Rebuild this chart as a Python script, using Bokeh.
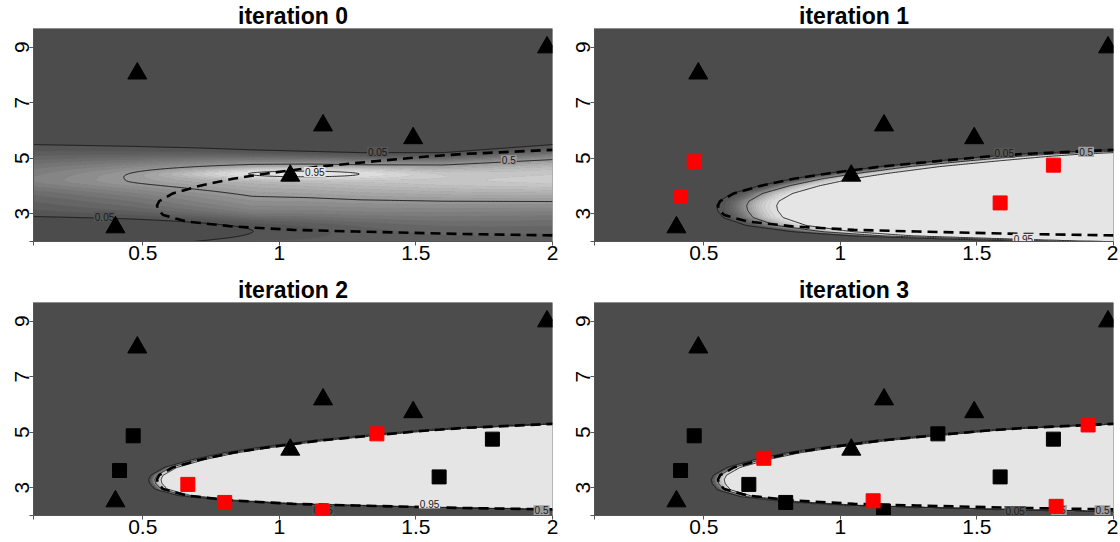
import numpy as np
from bokeh.plotting import figure
from bokeh.models import Range1d, FixedTicker
from bokeh.layouts import column, row
from bokeh.embed import file_html
from bokeh.resources import INLINE
from bokeh.core.properties import value

FONT = "Liberation Sans"

# ---------------- values ----------------
titles = ["iteration 0", "iteration 1", "iteration 2", "iteration 3"]
x_ticks = [0.1, 0.5, 1, 1.5, 2]
x_tick_labels = ["", "0.5", "1", "1.5", "2"]
y_ticks = [2, 3, 5, 7, 9]
y_tick_labels = ["", "3", "5", "7", "9"]
x_lim = [0.1, 2.0]
y_lim = [2.0, 9.67]

# initial design (triangles, same in every panel)
tri_x = [0.48, 1.16, 1.49, 1.98, 1.04, 0.40]
tri_y = [8.05, 6.18, 5.72, 8.99, 4.37, 2.51]

# points added at iteration 1, 2, 3 (squares)
sq1_x = [0.465, 0.415, 1.585, 1.78]
sq1_y = [4.87, 3.62, 3.39, 4.75]
sq2_x = [0.665, 0.80, 1.158, 1.357]
sq2_y = [3.12, 2.47, 2.16, 4.94]
sq3_x = [0.72, 1.12, 1.79, 1.907]
sq3_y = [4.06, 2.53, 2.33, 5.26]

# true boundary (dashed curve)
bnd_x = [2.0, 1.67, 1.28, 1.05, 0.83, 0.66, 0.575, 0.556, 0.552, 0.56, 0.61,
         0.71, 0.83, 0.955, 1.15, 1.36, 1.54, 1.67, 2.0]
bnd_y = [2.22, 2.27, 2.36, 2.42, 2.54, 2.72, 2.95, 3.15, 3.29, 3.45, 3.73,
         4.01, 4.26, 4.45, 4.70, 4.90, 5.06, 5.15, 5.30]

line_levels = [0.05, 0.5, 0.95]

# iteration 0 probability surface: ridge description
it0_cx = [0.10, 0.445, 0.70, 0.90, 1.10, 1.30, 1.60, 2.00]
it0_ridge = [4.20, 4.20, 4.25, 4.30, 4.30, 4.25, 4.20, 4.20]
it0_peak = [-0.60, 0.00, 0.45, 0.80, 1.00, 1.15, 1.30, 1.50]
it0_top05 = [5.49, 5.43, 5.37, 5.30, 5.25, 5.20, 5.20, 5.49]
it0_lowk = [2.50, 2.50, 2.20, 2.05, 2.40, 2.65, 3.00, 3.41]
it0_bump_pos = [1.07, 4.44, 0.24, 0.12, 3.0]
it0_bump_neg = [0.42, 2.40, 0.50, 0.30, 2.9]

# iterations 1-3: sharpness, offset and lower stretch of the fitted boundary
it_k = [26.8, 132.0, 125.0]
it_shift = [0.105, -0.008, -0.001]
it_stretch = [1.25, 1.0, 1.07]

# contour labels
lab0_t = ["0.05", "0.5", "0.95", "0.05"]
lab0_x = [1.36, 1.84, 1.13, 0.36]
lab0_y = [5.23, 4.93, 4.50, 2.90]
lab1_t = ["0.05", "0.5", "0.95"]
lab1_x = [1.60, 1.90, 1.67]
lab1_y = [5.20, 5.23, 2.10]
lab2_t = ["0.95", "0.05", "0.5"]
lab2_x = [1.55, 1.16, 1.96]
lab2_y = [2.43, 2.20, 2.19]
lab3_t = ["0.05", "0.5", "0.5"]
lab3_x = [1.64, 1.80, 1.96]
lab3_y = [2.16, 2.20, 2.19]

# ---------------- surfaces ----------------
gx = np.linspace(x_lim[0], x_lim[1], 320)
gy = np.linspace(y_lim[0], y_lim[1], 420)
X, Y = np.meshgrid(gx, gy)
L05 = np.log(19.0)


def gauss(b):
    cx, cy, sx, sy, a = b
    return a * np.exp(-0.5 * ((X - cx) / sx) ** 2 - 0.5 * ((Y - cy) / sy) ** 2)


def surface0():
    ridge = np.interp(X, it0_cx, it0_ridge)
    peak = np.interp(X, it0_cx, it0_peak)
    top = np.interp(X, it0_cx, it0_top05)
    kl = np.interp(X, it0_cx, it0_lowk)
    ku = (peak + L05) / (top - ridge) ** 2
    d = Y - ridge
    up = np.where(d > 0, ku * d * d, 0.0)
    g = (d * d + 0.04) ** 0.25 - 0.2 ** 0.5
    lo = np.where(d < 0, kl * g, 0.0)
    return peak - up - lo + gauss(it0_bump_pos) - gauss(it0_bump_neg)


def boundary_x(yy, stretch):
    yv = bnd_y[int(np.argmin(bnd_x))]
    ys = np.where(yy < yv, yv - (yv - yy) / stretch, yy)
    xb = np.interp(ys, bnd_y, bnd_x)
    e_hi = np.maximum(0.0, ys - bnd_y[-1])
    e_lo = np.maximum(0.0, bnd_y[0] - ys)
    return xb + 2.5 * e_hi + 3 * e_hi ** 2 + 6 * e_lo + 3 * e_lo ** 2


def surface_k(i):
    return it_k[i] * (X - boundary_x(Y, it_stretch[i]) - it_shift[i])


def prob(f):
    f = np.clip(f, -40, 40)
    return np.clip(1.0 / (1.0 + np.exp(-f)), 1e-6, 1 - 1e-6)


surfaces = [prob(surface0())] + [prob(surface_k(i)) for i in range(3)]

fill_levels = list(np.linspace(0.0, 1.0, 21))
gray_vals = [0.3 + 0.6 * i / 19 for i in range(20)]
palette = ["#%02x%02x%02x" % ((int(round(255 * v)),) * 3) for v in gray_vals]
# seam-hiding strokes on each band edge (mean of the two neighbouring greys)
seam_cols = []
for j in range(21):
    a = gray_vals[max(j - 1, 0)]
    b = gray_vals[min(j, 19)]
    v = int(round(255 * (a + b) / 2))
    seam_cols.append("#%02x%02x%02x" % (v, v, v))

labels = [(lab0_t, lab0_x, lab0_y), (lab1_t, lab1_x, lab1_y),
          (lab2_t, lab2_x, lab2_y), (lab3_t, lab3_x, lab3_y)]
new_pts = [([], []), (sq1_x, sq1_y), (sq2_x, sq2_y), (sq3_x, sq3_y)]

FW, FH = 519, 213


def make_panel(i, left, right, bottom):
    p = figure(title=titles[i], frame_width=FW, frame_height=FH,
               x_range=Range1d(*x_lim), y_range=Range1d(*y_lim),
               output_backend="svg", toolbar_location=None,
               min_border_left=left, min_border_right=right,
               min_border_top=0, min_border_bottom=bottom)
    p.background_fill_color = palette[0]
    p.border_fill_color = "white"
    p.outline_line_color = None
    p.xgrid.visible = False
    p.ygrid.visible = False

    p.title.align = "center"
    p.title.text_font = FONT
    p.title.text_font_size = "23px"
    p.title.text_font_style = "bold"
    p.title.text_color = "black"
    p.title.standoff = 0

    P = surfaces[i]
    p.contour(gx, gy, P, fill_levels, fill_color=palette,
              line_color=seam_cols, line_width=1.0)
    p.contour(gx, gy, P, line_levels, fill_color=None,
              line_color="#1a1a1a", line_width=0.9)
    p.line(bnd_x, bnd_y, line_color="black", line_width=2.6, line_dash="10 6")

    lt, lx, ly = labels[i]
    bg = [palette[min(int(round(float(t) / 0.05)), 19)] for t in lt]
    p.text(x=lx, y=ly, text=lt, text_font=value(FONT), text_font_size="10px",
           text_align="center", text_baseline="middle", text_color="#1a1a1a",
           background_fill_color=bg, padding=1)

    p.scatter(tri_x, tri_y, marker="triangle", size=19, color="black")
    old_x, old_y = [], []
    for j in range(1, i):
        old_x += new_pts[j][0]
        old_y += new_pts[j][1]
    if old_x:
        p.scatter(old_x, old_y, marker="square", size=14, color="black")
    if i > 0:
        p.scatter(new_pts[i][0], new_pts[i][1], marker="square", size=14,
                  color="#ff0000")

    p.xaxis.ticker = FixedTicker(ticks=x_ticks)
    p.xaxis.major_label_overrides = {t: s for t, s in zip(x_ticks, x_tick_labels)}
    p.yaxis.ticker = FixedTicker(ticks=y_ticks)
    p.yaxis.major_label_overrides = {t: s for t, s in zip(y_ticks, y_tick_labels)}
    p.yaxis.major_label_orientation = "vertical"
    for ax in (p.xaxis, p.yaxis):
        ax.axis_line_color = "#555555"
        ax.major_tick_line_color = "#555555"
        ax.minor_tick_line_color = None
        ax.major_tick_in = 0
        ax.major_tick_out = 4
        ax.major_label_standoff = 0
        ax.major_label_text_font = FONT
        ax.major_label_text_font_size = "21px"
        ax.major_label_text_color = "black"
    return p


p0 = make_panel(0, 33, 8, 33)
p1 = make_panel(1, 34, 5, 33)
p2 = make_panel(2, 33, 8, 0)
p3 = make_panel(3, 34, 5, 0)

layout = column(row(p0, p1), row(p2, p3))
open("out.html", "w").write(file_html(layout, INLINE))
